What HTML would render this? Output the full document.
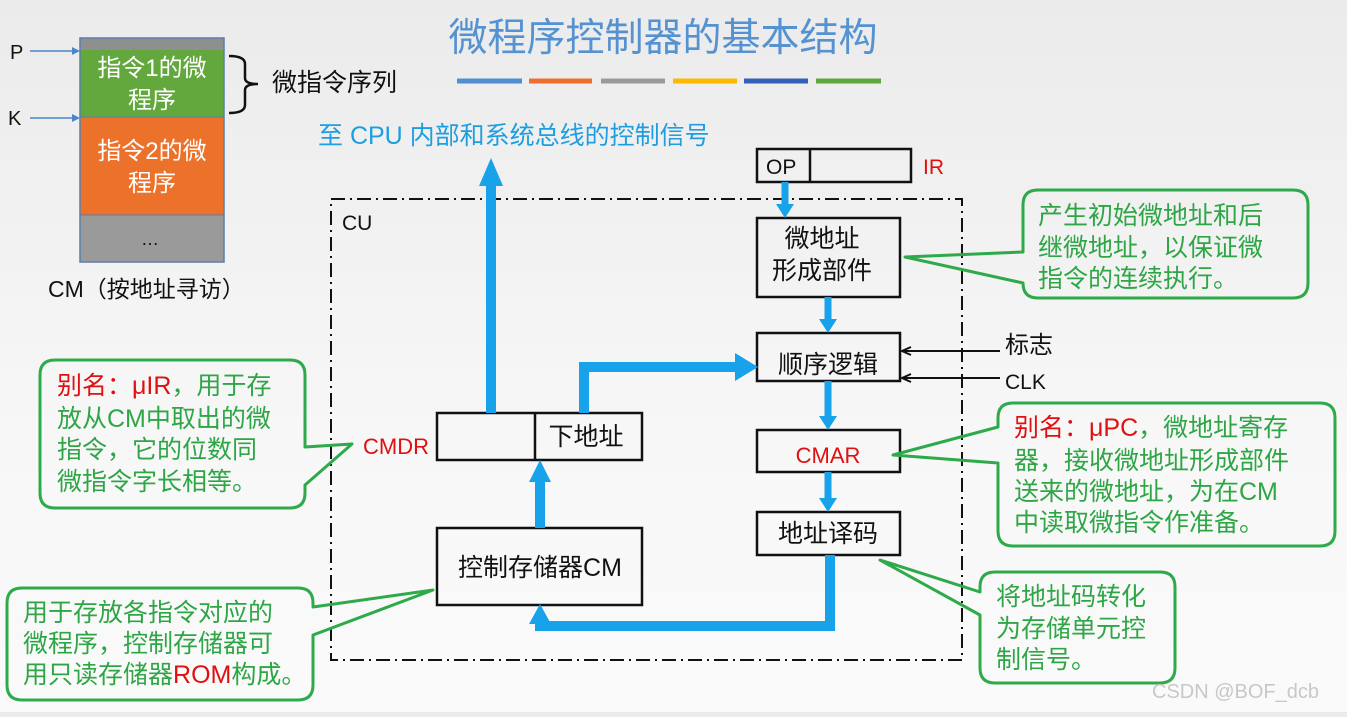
<!DOCTYPE html>
<html><head><meta charset="utf-8"><style>
html,body{margin:0;padding:0;}
body{width:1347px;height:712px;overflow:hidden;background:linear-gradient(#ebebeb,#f7f7f7 60%,#fafafa);}
svg text{font-family:"Liberation Sans","Noto Sans CJK SC",sans-serif;}
</style></head><body>
<svg width="1347" height="712" viewBox="0 0 1347 712" xmlns="http://www.w3.org/2000/svg">
<text x="663" y="51" font-size="39" fill="#5592d2" text-anchor="middle">微程序控制器的基本结构</text>
<g stroke-width="5">
<line x1="457" y1="81" x2="522" y2="81" stroke="#4f8fd2"/>
<line x1="529" y1="81" x2="592" y2="81" stroke="#ed7030"/>
<line x1="601" y1="81" x2="665" y2="81" stroke="#9a9a9a"/>
<line x1="673" y1="81" x2="737" y2="81" stroke="#fdb800"/>
<line x1="744" y1="81" x2="808" y2="81" stroke="#3660b8"/>
<line x1="816" y1="81" x2="881" y2="81" stroke="#5ea73c"/>
</g>
<rect x="80" y="38" width="144" height="12" fill="#8f8f8f"/>
<rect x="80" y="50" width="144" height="67" fill="#63a83d"/>
<rect x="80" y="117" width="144" height="98" fill="#ec722c"/>
<rect x="80" y="215" width="144" height="47" fill="#9a9a9a"/>
<rect x="80" y="38" width="144" height="224" fill="none" stroke="#5a7fa8" stroke-width="1.5"/>
<line x1="80" y1="117" x2="224" y2="117" stroke="#5a7fa8"/>
<line x1="80" y1="215" x2="224" y2="215" stroke="#5a7fa8"/>
<g fill="#fff" font-size="24" text-anchor="middle">
<text x="152" y="76">指令1的微</text><text x="152" y="108">程序</text>
<text x="152" y="159">指令2的微</text><text x="152" y="191">程序</text>
</g>
<text x="150" y="245" font-size="18" fill="#111" text-anchor="middle">…</text>
<text x="48" y="297" font-size="23" fill="#111">CM（按地址寻访）</text>
<text x="10" y="59" font-size="20" fill="#111">P</text>
<text x="8" y="125" font-size="20" fill="#111">K</text>
<g stroke="#4a86c8" stroke-width="1.5"><line x1="30" y1="51" x2="74" y2="51"/><line x1="30" y1="118" x2="74" y2="118"/></g>
<polygon points="80,51 72,47 72,55" fill="#4a86c8"/><polygon points="80,118 72,114 72,122" fill="#4a86c8"/>
<path d="M229,56 Q245,56 245,64 V78 Q245,84 258,84 Q245,84 245,90 V105 Q245,113 229,113" fill="none" stroke="#111" stroke-width="2.5"/>
<text x="272" y="91" font-size="25" fill="#111">微指令序列</text>
<text x="318" y="144" font-size="25" fill="#1d9ee0">至 CPU 内部和系统总线的控制信号</text>
<rect x="331" y="199" width="631" height="461" fill="none" stroke="#111" stroke-width="2" stroke-dasharray="14,5,2,5"/>
<text x="342" y="230" font-size="21" fill="#111">CU</text>
<rect x="757" y="149" width="154" height="33" fill="none" stroke="#111" stroke-width="2.5"/>
<line x1="810" y1="149" x2="810" y2="182" stroke="#111" stroke-width="2.5"/>
<text x="766" y="174" font-size="21" fill="#111">OP</text>
<text x="923" y="174" font-size="21" fill="#e01010">IR</text>
<g fill="none" stroke="#111" stroke-width="2.5">
<rect x="757" y="218" width="143" height="79"/>
<rect x="757" y="333" width="143" height="48"/>
<rect x="757" y="430" width="143" height="42"/>
<rect x="757" y="512" width="143" height="43"/>
<rect x="437" y="413" width="205" height="47"/>
<line x1="535" y1="413" x2="535" y2="460"/>
<rect x="437" y="528" width="205" height="77"/>
</g>
<g font-size="25" fill="#111" text-anchor="middle">
<text x="822" y="247">微地址</text><text x="822" y="279">形成部件</text>
<text x="828" y="373">顺序逻辑</text>
<text x="828" y="542">地址译码</text>
<text x="586" y="445">下地址</text>
<text x="540" y="576">控制存储器CM</text>
</g>
<text x="828" y="463" font-size="22" fill="#e01010" text-anchor="middle">CMAR</text>
<text x="429" y="454" font-size="22" fill="#e01010" text-anchor="end">CMDR</text>
<g fill="none" stroke="#18a2ea" stroke-width="10">
<line x1="491" y1="413" x2="491" y2="182"/>
<path d="M584,413 V367 H737"/>
<line x1="540" y1="528" x2="540" y2="480"/>
<path d="M830,555 V626 H540 V620"/>
</g>
<g fill="none" stroke="#18a2ea" stroke-width="7">
<line x1="785" y1="182" x2="785" y2="206"/>
<line x1="828" y1="297" x2="828" y2="321"/>
<line x1="828" y1="381" x2="828" y2="418"/>
<line x1="828" y1="472" x2="828" y2="500"/>
</g>
<g fill="#18a2ea">
<polygon points="479,186 503,186 491,158"/>
<polygon points="735,353 735,381 758,367"/>
<polygon points="529,482 551,482 540,460"/>
<polygon points="529,624 551,624 540,604"/>
<polygon points="776,204 794,204 785,218"/>
<polygon points="819,319 837,319 828,333"/>
<polygon points="819,416 837,416 828,430"/>
<polygon points="819,498 837,498 828,512"/>
</g>
<g stroke="#111" stroke-width="2" fill="none">
<line x1="1000" y1="351" x2="903" y2="351"/><line x1="1000" y1="378" x2="903" y2="378"/>
<path d="M911,347 L902,351 L911,355"/><path d="M911,374 L902,378 L911,382"/>
</g>
<text x="1005" y="353" font-size="24" fill="#111">标志</text>
<text x="1005" y="389" font-size="21" fill="#111">CLK</text>
<g fill="none" stroke="#2eaa4a" stroke-width="3" stroke-linejoin="round">
<path d="M1038,190 H1293 Q1308,190 1308,205 V283 Q1308,298 1293,298 H1038 Q1023,298 1023,283 L905,257 L1023,252 V205 Q1023,190 1038,190 Z"/>
<path d="M1013,403 H1320 Q1335,403 1335,418 V531 Q1335,546 1320,546 H1013 Q998,546 998,531 V463 L893,455 L998,427 V418 Q998,403 1013,403 Z"/>
<path d="M995,572 H1160 Q1175,572 1175,587 V668 Q1175,683 1160,683 H995 Q980,683 980,668 V615 L880,560 L980,592 V587 Q980,572 995,572 Z"/>
<path d="M55,360 H290 Q305,360 305,375 V447 L352,444 L305,485 V493 Q305,508 290,508 H55 Q40,508 40,493 V375 Q40,360 55,360 Z"/>
<path d="M22,588 H298 Q313,588 313,603 V607 L433,590 L313,635 V685 Q313,700 298,700 H22 Q7,700 7,685 V603 Q7,588 22,588 Z"/>
</g>
<g font-size="25" fill="#2ea646">
<text x="1038" y="224">产生初始微地址和后</text>
<text x="1038" y="256">继微地址，以保证微</text>
<text x="1038" y="287">指令的连续执行。</text>
<text x="1014" y="436"><tspan fill="#e01010">别名：μPC</tspan>，微地址寄存</text>
<text x="1014" y="469">器，接收微地址形成部件</text>
<text x="1014" y="500">送来的微地址，为在CM</text>
<text x="1014" y="531">中读取微指令作准备。</text>
<text x="996" y="605">将地址码转化</text>
<text x="996" y="637">为存储单元控</text>
<text x="996" y="668">制信号。</text>
<text x="57" y="394"><tspan fill="#e01010">别名：μIR</tspan>，用于存</text>
<text x="57" y="427">放从CM中取出的微</text>
<text x="57" y="458">指令，它的位数同</text>
<text x="57" y="490">微指令字长相等。</text>
<text x="23" y="621">用于存放各指令对应的</text>
<text x="23" y="652">微程序，控制存储器可</text>
<text x="23" y="683">用只读存储器<tspan fill="#e01010">ROM</tspan>构成。</text>
</g>
<text x="1152" y="698" font-size="20" fill="#c8c8c8">CSDN @BOF_dcb</text>
</svg>
</body></html>
